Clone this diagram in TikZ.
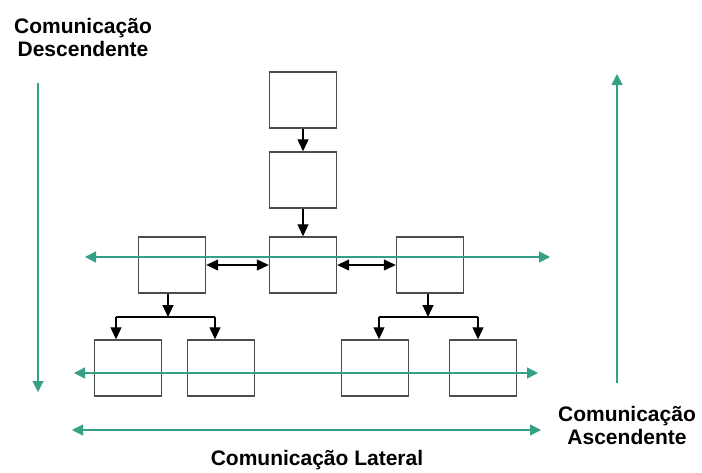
\documentclass[tikz,border=0pt]{standalone}
\usepackage{fontspec}
\setmainfont{Liberation Sans}
\usetikzlibrary{arrows.meta}
\definecolor{tealline}{RGB}{52,160,134}

\begin{document}
\begin{tikzpicture}[x=1pt, y=-1pt, thick,
                    main node/.style={draw=black!70,line width=1.4pt,minimum width=67pt,minimum height=56pt,inner sep=0pt},
                    flow/.style={draw=black,line width=1.1pt,-{Triangle[length=12pt,width=11pt]}},
                    both/.style={draw=black,line width=1.1pt,{Triangle[length=12pt,width=11pt]}-{Triangle[length=12pt,width=11pt]}},
                    comm/.style={draw=tealline,line width=1.2pt,-{Triangle[length=11pt,width=11pt]}},
                    comm both/.style={draw=tealline,line width=1.2pt,{Triangle[length=11pt,width=11pt]}-{Triangle[length=11pt,width=11pt]}},
                    label text/.style={font=\bfseries\fontsize{21}{23}\selectfont,align=center,inner sep=0pt}]

  \useasboundingbox (0,0) rectangle (702,472);

  % boxes
  \node[main node] (1) at (303,100) {};
  \node[main node] (2) at (303,180) {};
  \node[main node] (3) at (303,265) {};
  \node[main node] (4) at (172,265) {};
  \node[main node] (5) at (430,265) {};
  \node[main node] (6) at (128,368) {};
  \node[main node] (7) at (221,368) {};
  \node[main node] (8) at (375,368) {};
  \node[main node] (9) at (483,368) {};

  % branch points
  \coordinate (j4) at (168,317);
  \coordinate (j5) at (428,317);
  \coordinate (a6) at (116,317);
  \coordinate (a7) at (215,317);
  \coordinate (a8) at (379,317);
  \coordinate (a9) at (478,317);

  \path (1) edge[flow] (2)
        (2) edge[flow] (3);
  \draw[both] (4.east) -- (3.west);
  \draw[both] (3.east) -- (5.west);

  \draw[flow] (j4 |- 4.south) -- (j4);
  \draw[draw=black,line width=1.1pt] (a6) -- (a7);
  \draw[flow] (a6) -- (a6 |- 6.north);
  \draw[flow] (a7) -- (a7 |- 7.north);
  \draw[flow] (j5 |- 5.south) -- (j5);
  \draw[draw=black,line width=1.1pt] (a8) -- (a9);
  \draw[flow] (a8) -- (a8 |- 8.north);
  \draw[flow] (a9) -- (a9 |- 9.north);

  % communication lines
  \coordinate (m-l) at (85,257);
  \coordinate (m-r) at (550,257);
  \coordinate (b-l) at (74,373);
  \coordinate (b-r) at (538,373);
  \coordinate (l-l) at (72,430);
  \coordinate (l-r) at (541,430);
  \coordinate (d-t) at (38,83);
  \coordinate (d-b) at (38,392);
  \coordinate (u-b) at (617,383);
  \coordinate (u-t) at (617,74);

  \draw[comm both] (m-l) -- (m-r);
  \draw[comm both] (b-l) -- (b-r);
  \draw[comm both] (l-l) -- (l-r);
  \draw[comm] (d-t) -- (d-b);
  \draw[comm] (u-b) -- (u-t);

  % labels
  \node[label text] (desc) at (83,37) {Comunicação\\Descendente};
  \node[label text] (asc) at (627,425) {Comunicação\\Ascendente};
  \node[label text] (lat) at (317,460) {Comunicação Lateral};
\end{tikzpicture}
\end{document}
